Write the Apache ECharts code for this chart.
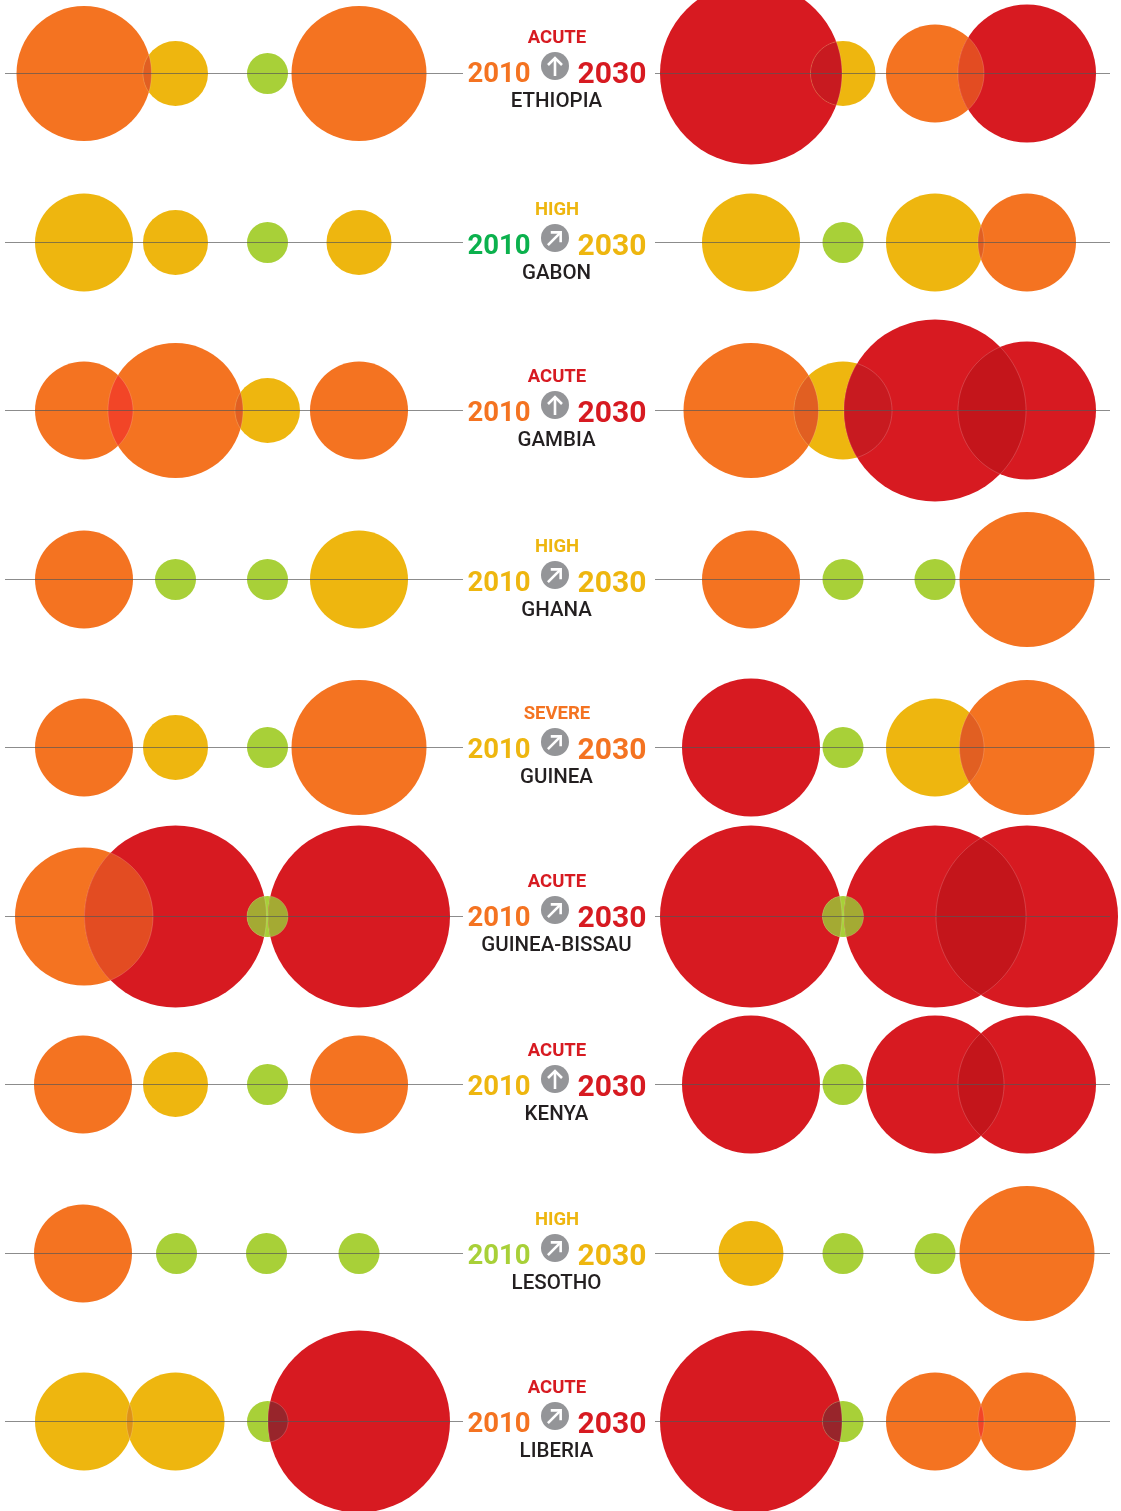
<!DOCTYPE html>
<html><head><meta charset="utf-8">
<style>html,body{margin:0;padding:0;background:#fff}#c{width:1121px;height:1511px}</style>
<script src="https://cdn.jsdelivr.net/npm/echarts@6/dist/echarts.min.js"></script>
</head><body><div id="c"></div>
<script>
// Each row: eight colour+size codes, four for 2010 and four for 2030.
// Colour: G low, Y moderate, O severe, R acute. Size: 1 to 6.
const countries = ['ETHIOPIA','GABON','GAMBIA','GHANA','GUINEA','GUINEA-BISSAU','KENYA','LESOTHO','LIBERIA'];
const verdicts  = ['ACUTE','HIGH','ACUTE','HIGH','SEVERE','ACUTE','ACUTE','HIGH','ACUTE'];
const from2010  = ['O','D','O','Y','Y','O','Y','G','O'];
const to2030    = ['R','Y','R','Y','O','R','R','Y','R'];
const trend     = ['up','diag','up','diag','diag','diag','up','diag','diag'];
const ethiopia   = ['O4','Y2','G1','O4','R6','Y2','O3','R5'];
const gabon      = ['Y3','Y2','G1','Y2','Y3','G1','Y3','O3'];
const gambia     = ['O3','O4','Y2','O3','O4','Y3','R6','R5'];
const ghana      = ['O3','G1','G1','Y3','O3','G1','G1','O4'];
const guinea     = ['O3','Y2','G1','O4','R5','G1','Y3','O4'];
const guineaBiss = ['O5','R6','G1','R6','R6','G1','R6','R6'];
const kenya      = ['O3','Y2','G1','O3','R5','G1','R5','R5'];
const lesotho    = ['O3','G1','G1','G1','Y2','G1','G1','O4'];
const liberia    = ['Y3','Y3','G1','R6','R6','G1','O3','O3'];
const rows = [ethiopia,gabon,gambia,ghana,guinea,guineaBiss,kenya,lesotho,liberia];

// Layout and style
const rowY = [73.5,242.5,410.5,579.5,747.5,916.5,1084.5,1253.5,1421.5];
const textY = [72,244,411,581,748,916,1085,1254,1422];
const colX = [84,175.5,267.5,359,751,843,935,1027];
const colShift = {6:[-1,0,0,0,0,0,0,0], 7:[-1,1,-1,0,0,0,0,0]};
const sizePx = {1:41,2:65,3:98,4:135,5:138,6:182};
const colour = {G:'#a8d038',Y:'#eeb60f',O:'#f47321',R:'#d71a21',D:'#0bb14d'};
const lensColour = {RR:'#c4151b',OR:'#e34c22',RY:'#c81a20',GR:'#98252b',OO:'#f24527',OY:'#e15f22',YY:'#df9217',GY:'#a8d038',GO:'#a8d038',GG:'#a8d038'};
const greenOverRedRow = 5;

const circles = [];
rows.forEach((row,r)=>row.forEach((c,i)=>{
  circles.push({
    value:[colX[i]+((colShift[r]||[])[i]||0), rowY[r], sizePx[c[1]]],
    itemStyle:{color:colour[c[0]],opacity:1}
  });
}));

const lenses = [];
rows.forEach((row,r)=>{
  row.forEach((c,i)=>{
    if(i===row.length-1 || i===3) return;
    const a = circles[r*8+i].value, b = circles[r*8+i+1].value;
    if(b[0]-a[0] < (a[2]+b[2])/2){
      const key=[c[0],row[i+1][0]].sort().join('');
      const col = (key==='GR' && r===greenOverRedRow) ? '#a4aa33' : lensColour[key];
      lenses.push([a[0],a[1],a[2]/2,b[0],b[1],b[2]/2,col]);
    }
  });
});

const lineData = [];
rowY.forEach(y=>{
  lineData.push([5,y],[463,y],[null,null],[655,y],[1110,y],[null,null]);
});

const textRows = countries.map((n,i)=>[557,textY[i],i]);

const chart = echarts.init(document.getElementById('c'),null,{renderer:'canvas'});
chart.setOption({
  animation:false,
  backgroundColor:'#fff',
  grid:{left:0,right:0,top:0,bottom:0},
  xAxis:{type:'value',min:0,max:1121,show:false},
  yAxis:{type:'value',min:0,max:1511,inverse:true,show:false},
  series:[
    {type:'scatter',z:2,silent:true,clip:false,data:circles,
     symbol:'circle',symbolSize:v=>v[2]},
    {type:'custom',z:3,silent:true,clip:false,data:lenses,
     renderItem:(p,api)=>{
       const c1=api.coord([api.value(0),api.value(1)]), r1=api.value(2);
       const c2=api.coord([api.value(3),api.value(4)]), r2=api.value(5);
       const d=c2[0]-c1[0];
       const a1=Math.acos((d*d+r1*r1-r2*r2)/(2*d*r1));
       const a2=Math.acos((d*d+r2*r2-r1*r1)/(2*d*r2));
       const pts=[];
       const N=48;
       for(let k=0;k<=N;k++){const t=-a1+2*a1*k/N;pts.push([c1[0]+r1*Math.cos(t),c1[1]+r1*Math.sin(t)]);}
       for(let k=1;k<N;k++){const t=Math.PI-a2+2*a2*k/N;pts.push([c2[0]+r2*Math.cos(t),c2[1]+r2*Math.sin(t)]);}
       return {type:'polygon',shape:{points:pts},
         style:{fill:lenses[p.dataIndex][6],stroke:'rgba(255,255,255,0.22)',lineWidth:0.8}};
     }},
    {type:'line',z:4,silent:true,showSymbol:false,connectNulls:false,clip:false,data:lineData,
     lineStyle:{color:'rgba(85,85,85,0.68)',width:1}},
    {type:'custom',z:5,silent:true,clip:false,data:textRows,
     renderItem:(p,api)=>{
       const i=api.value(2);
       const o=api.coord([api.value(0),api.value(1)]);
       const txt=(s,x,y,fill,font)=>({type:'text',style:{text:s,x:x,y:y,fill:fill,font:font,align:'center',verticalAlign:'middle'}});
       const line=(pts)=>({type:'polyline',shape:{points:pts},style:{stroke:'#fff',fill:null,lineWidth:2.6}});
       return {type:'group',children:[
         txt(verdicts[i],o[0],o[1]-34,colour[to2030[i]==='Y'?'Y':(verdicts[i]==='SEVERE'?'O':'R')],'700 18.5px Roboto'),
         txt('2010',o[0]-58,o[1]+3,colour[from2010[i]],'700 27.5px Roboto'),
         txt('2030',o[0]+55,o[1]+3,colour[to2030[i]],'700 30px Roboto'),
         txt(countries[i],o[0]-0.5,o[1]+30,'#231f20','500 20.5px Roboto'),
         {type:'circle',shape:{cx:o[0]-2,cy:o[1]-6,r:14},style:{fill:'#949598'}},
         {type:'group',x:o[0]-2,y:o[1]-6,rotation:trend[i]==='diag'?-Math.PI/4:0,children:[
           line([[0,10],[0,-8]]),
           line([[-7,-1],[0,-8],[7,-1]])
         ]}
       ]};
     }}
  ]
});
</script></body></html>
